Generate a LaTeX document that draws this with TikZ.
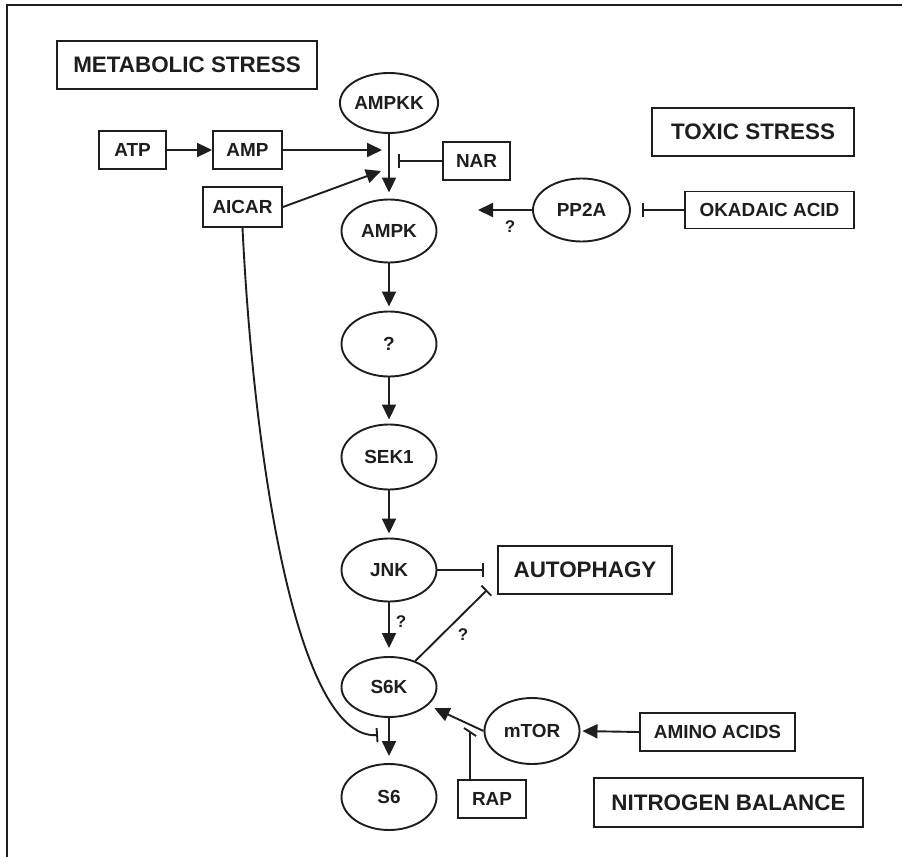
\documentclass[tikz,border=0pt]{standalone}
\usepackage{fontspec}
\setmainfont{Liberation Sans}
\usetikzlibrary{shapes.geometric,arrows.meta}
\definecolor{ink}{HTML}{1E1E1E}
\begin{document}
\begin{tikzpicture}[x=1bp,y=-1bp,
  every node/.style={text=ink},
  lw/.style={line width=1.9bp, draw=ink},
  box/.style={lw, rectangle, inner sep=0pt, font=\fontsize{19}{19}\selectfont\bfseries},
  bigbox/.style={lw, rectangle, inner sep=0pt, font=\fontsize{22.5}{22.5}\selectfont\bfseries},
  oval/.style={lw, ellipse, inner sep=0pt, minimum width=95bp, minimum height=62bp,
               font=\fontsize{19}{19}\selectfont\bfseries},
  act/.style={lw, -{Triangle[length=15bp,width=14bp]}},
  inh/.style={lw, -{Bar[width=14bp]}},
  qlab/.style={font=\fontsize{17}{17}\selectfont\bfseries},
]
\useasboundingbox (0,0) rectangle (902,857);
\fill[white] (0,0) rectangle (902,857);
% outer frame (left and top edges)
\draw[line width=2.4bp, draw=ink] (7,860) -- (7,5) -- (905,5);

% headings
\node[bigbox, minimum width=260bp, minimum height=48bp] (metab) at (187,65) {METABOLIC STRESS};
\node[bigbox, minimum width=202bp, minimum height=48bp] (toxic) at (753,132) {TOXIC STRESS};
\node[bigbox, minimum width=174bp, minimum height=48bp] (auto)  at (585,570) {AUTOPHAGY};
\node[bigbox, minimum width=269bp, minimum height=49bp] (nitro) at (728.5,802.5) {NITROGEN BALANCE};

% inputs
\node[box, minimum width=67bp, minimum height=38bp] (atp)   at (132.5,150) {ATP};
\node[box, minimum width=69bp, minimum height=38bp] (amp)   at (247.5,150) {AMP};
\node[box, minimum width=79bp, minimum height=40bp] (aicar) at (242.5,207) {AICAR};
\node[box, minimum width=67bp, minimum height=38bp] (nar)   at (476.5,161) {NAR};
\node[box, minimum width=169bp, minimum height=37bp] (oka)  at (769.5,210) {OKADAIC ACID};
\node[box, minimum width=155bp, minimum height=38bp] (amino) at (717.5,732) {AMINO ACIDS};
\node[box, minimum width=68bp, minimum height=38bp] (rap)   at (492,799) {RAP};

% signalling cascade
\node[oval, minimum height=60bp] (ampkk) at (389,103) {AMPKK};
\node[oval, minimum height=63bp] (ampk)  at (389,231) {AMPK};
\node[oval, minimum height=65bp] (unk)   at (389,344) {?};
\node[oval, minimum height=65bp] (sek1)  at (389,457) {SEK1};
\node[oval, minimum height=63bp] (jnk)   at (389,570) {JNK};
\node[oval, minimum height=60bp] (s6k)   at (389,687) {S6K};
\node[oval, minimum height=66bp] (s6)    at (389,797) {S6};
\node[oval, minimum width=97bp, minimum height=63bp] (pp2a) at (581.5,210) {PP2A};
\node[oval, minimum height=66bp] (mtor)  at (532,731) {mTOR};

% free ends of connectors
\coordinate (ampend)   at (382,150);
\coordinate (aicarend) at (381,171);
\coordinate (narbar)   at (398,161);
\coordinate (pp2aend)  at (478,210);
\coordinate (s6kbar)   at (487,590);
\coordinate (aicarbar) at (378,735);
\coordinate (rapbar)   at (470,732);

% activations
\draw[act] (atp) -- (amp);
\draw[act] (amp.east) -- (ampend);
\draw[act] (aicar.east) -- (aicarend);
\draw[act, shorten >=6bp] (ampkk) -- (ampk);
\draw[act, shorten >=4bp] (ampk) -- (unk);
\draw[act, shorten >=4bp] (unk) -- (sek1);
\draw[act, shorten >=4bp] (sek1) -- (jnk);
\draw[act, shorten >=8bp] (jnk) -- (s6k);
\draw[act, shorten >=7bp] (s6k) -- (s6);
\draw[act] (pp2a.west) -- (pp2aend);
\draw[act, shorten >=7bp] (mtor.west) -- (s6k.-25);
\draw[act, shorten >=2bp] (amino.west) -- (mtor.east);

% inhibitions
\draw[inh] (nar.west) -- (narbar);
\draw[inh, shorten >=11bp] (oka.west) -- (pp2a.east);
\draw[inh, shorten >=13bp] (jnk.east) -- (auto.west);
\draw[inh] (s6k) -- (s6kbar);
\draw[inh] (aicar.south) .. controls (255,480) and (300,740) .. (aicarbar);
\draw[lw] (rap.north -| rapbar) -- (rapbar);
\draw[lw] ([shift={(-6,-4)}]rapbar) -- ([shift={(6,4)}]rapbar);

% uncertain links
\node[qlab] (q1) at (510,227) {?};
\node[qlab] (q2) at (401,622) {?};
\node[qlab] (q3) at (463,635) {?};
\end{tikzpicture}
\end{document}
